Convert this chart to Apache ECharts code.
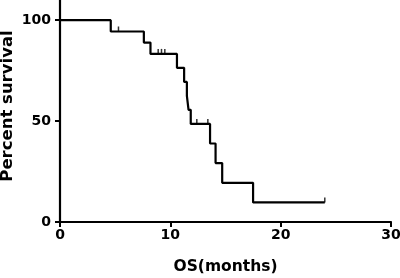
<!DOCTYPE html>
<html>
<head>
<meta charset="utf-8">
<script src="https://cdn.jsdelivr.net/npm/echarts@6/dist/echarts.min.js"></script>
<style>
html, body { margin: 0; padding: 0; background: #fff; }
#main { width: 400px; height: 278px; }
</style>
</head>
<body>
<div id="main"></div>
<script>
// survival steps (months, percent)
var stepTimes = [0, 4.6, 7.6, 8.2, 10.6, 11.25, 11.5, 11.65, 11.85, 13.6, 14.1, 14.7, 17.5, 24.0];
var stepSurv = [100, 94.4, 88.9, 83.3, 76.4, 69.4, 62.5, 55.6, 48.6, 38.9, 29.2, 19.4, 9.7, 9.7];
// censored points
var censorTimes = [5.3, 8.9, 9.2, 9.5, 12.4, 13.4, 24.0];
var censorSurv = [94.4, 83.3, 83.3, 83.3, 48.6, 48.6, 9.7];
var xTicks = [0, 10, 20, 30];
var yTicks = [0, 50, 100];

var lineData = [];
for (var i = 0; i < stepTimes.length; i++) {
	lineData.push([stepTimes[i], stepSurv[i]]);
}
var censorData = [];
for (var j = 0; j < censorTimes.length; j++) {
	censorData.push([censorTimes[j], censorSurv[j]]);
}

var font = 'DejaVu Sans, sans-serif';
var myChart = echarts.init(document.getElementById('main'));
var option = {
	animation: false,
	grid: { left: 60, right: 9, top: 0, bottom: 56, outerBoundsMode: 'none', containLabel: false },
	xAxis: {
		type: 'value',
		min: 0,
		max: 30,
		interval: 10,
		name: 'OS(months)',
		nameLocation: 'middle',
		nameGap: 37,
		nameMoveOverlap: false,
		nameTextStyle: { fontFamily: font, fontWeight: 'bold', fontSize: 15.5, color: '#000' },
		splitLine: { show: false },
		axisLine: { onZero: false, lineStyle: { color: '#000', width: 2.2 } },
		axisTick: { length: 5, customValues: xTicks, lineStyle: { color: '#000', width: 2 } },
		axisLabel: { fontFamily: font, fontWeight: 'bold', fontSize: 14, color: '#000', margin: 6, customValues: xTicks }
	},
	yAxis: {
		type: 'value',
		min: 0,
		max: 110,
		name: 'Percent survival',
		nameLocation: 'middle',
		nameGap: 44,
		nameMoveOverlap: false,
		nameTextStyle: { fontFamily: font, fontWeight: 'bold', fontSize: 16.5, color: '#000', padding: [0, 0, 0, 10] },
		splitLine: { show: false },
		axisLine: { show: true, lineStyle: { color: '#000', width: 2.2 } },
		axisTick: { show: true, length: 5, customValues: yTicks, lineStyle: { color: '#000', width: 2 } },
		axisLabel: { fontFamily: font, fontWeight: 'bold', fontSize: 14, color: '#000', margin: 9, customValues: yTicks }
	},
	series: [{
		type: 'line',
		step: 'end',
		data: lineData,
		symbol: 'none',
		lineStyle: { color: '#000', width: 2.2 }
	}, {
		type: 'scatter',
		data: censorData,
		symbol: 'rect',
		symbolSize: [1.5, 5],
		symbolOffset: [0, -2.5],
		itemStyle: { color: '#000' }
	}]
};
myChart.setOption(option);
</script>
</body>
</html>
